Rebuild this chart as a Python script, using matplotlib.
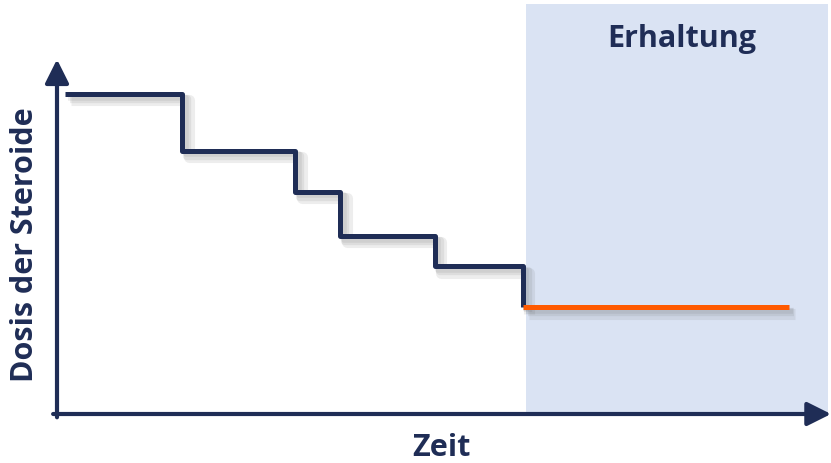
import matplotlib
matplotlib.use("Agg")
import matplotlib.pyplot as plt
import matplotlib.patheffects as pe

# Tapering schedule: time breakpoints and dose levels (arbitrary units)
taper_times = [1, 16.2, 30.8, 36.6, 48.8, 60.2]
taper_doses = [78, 64.2, 54.2, 43.4, 36, 26]
maint_start, maint_end = 60.2, 94.6
maint_dose = 26
phase_start, phase_end = 60.6, 99.6

navy = "#1F2D56"
orange = "#FF5A00"
shade = "#DAE3F3"
font = ["Open Sans", "DejaVu Sans"]

fig = plt.figure(figsize=(8.31, 4.64), dpi=100)
ax = fig.add_axes([57 / 831, 1 - 415 / 464, 774 / 831, 410 / 464])
ax.set_xlim(0, 100)
ax.set_ylim(0, 100)
ax.axis("off")

ax.axvspan(phase_start, phase_end, ymin=0, ymax=1, color=shade, lw=0, zorder=0)

# soft drop shadow built from stacked offsets
shadow = [pe.SimpleLineShadow(offset=(2.5 + k, -2.5 - k), shadow_color="#555555",
                               alpha=0.10, linewidth=4 + 2 * k) for k in range(3)]
shadow.append(pe.Normal())

xs, ys = [], []
for i, (t, d) in enumerate(zip(taper_times, taper_doses)):
    if i > 0:
        xs.append(t); ys.append(taper_doses[i - 1])
    xs.append(t); ys.append(d)
xs.append(taper_times[-1]); ys.append(maint_dose)
ax.plot(xs, ys, color=navy, lw=3.6, solid_joinstyle="round", solid_capstyle="butt",
        path_effects=shadow, zorder=3)
ax.plot([maint_start, maint_end], [maint_dose, maint_dose], color=orange, lw=3.6,
        solid_capstyle="butt", path_effects=shadow, zorder=4)

# axes with arrow heads
arrow = dict(arrowstyle="-|>,head_length=0.9,head_width=0.45", color=navy, lw=3,
             shrinkA=0, shrinkB=0, mutation_scale=16)
ax.annotate("", xy=(100, 0), xytext=(-0.5, 0), arrowprops=arrow, zorder=5)
ax.annotate("", xy=(0, 86.5), xytext=(0, -0.8), arrowprops=arrow, zorder=5)

ax.text(80.7, 91.6, "Erhaltung", ha="center", va="center", fontsize=22,
        fontweight="bold", color=navy, family=font)
fig.text(441 / 831, 1 - 448 / 464, "Zeit", ha="center", va="center", fontsize=22,
         fontweight="bold", color=navy, family=font)
fig.text(25 / 831, 1 - 245 / 464, "Dosis der Steroide", ha="center", va="center",
         rotation=90, fontsize=22, fontweight="bold", color=navy, family=font)

fig.savefig("out.png", dpi=100, facecolor="white")
